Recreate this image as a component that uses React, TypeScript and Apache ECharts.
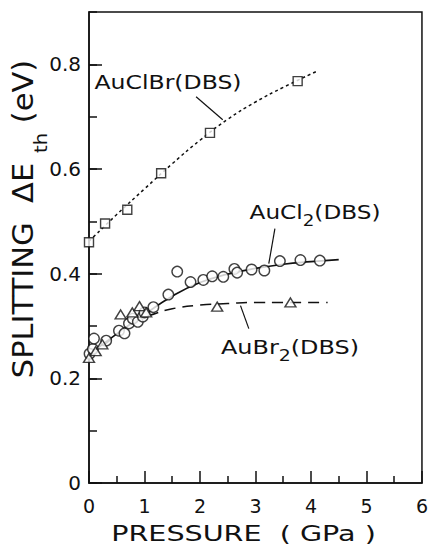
import React, { useEffect, useRef } from "react";
import * as echarts from "echarts";

// ---- data (pressure GPa, splitting eV) ----
const auClBrPoints: number[][] = [
  [0.0, 0.46], [0.29, 0.496], [0.69, 0.522], [1.3, 0.592], [2.18, 0.669], [3.76, 0.768],
];
const auClBrFit: number[][] = [
  [0, 0.462], [0.5, 0.513], [1.0, 0.562], [1.5, 0.61], [2.0, 0.655], [2.5, 0.695],
  [3.0, 0.728], [3.5, 0.756], [4.13, 0.788],
];
const auCl2Points: number[][] = [
  [0.01, 0.247], [0.07, 0.256], [0.09, 0.276], [0.31, 0.272], [0.54, 0.291], [0.64, 0.286],
  [0.72, 0.305], [0.79, 0.314], [0.88, 0.308], [0.97, 0.318], [1.0, 0.326], [1.16, 0.336],
  [1.43, 0.36], [1.59, 0.404], [1.83, 0.384], [2.06, 0.388], [2.22, 0.395], [2.42, 0.394],
  [2.62, 0.409], [2.67, 0.402], [2.93, 0.408], [3.16, 0.406], [3.44, 0.424], [3.81, 0.426],
  [4.16, 0.425],
];
const auCl2Fit: number[][] = [
  [0, 0.245], [0.5, 0.285], [1.0, 0.322], [1.5, 0.357], [2.0, 0.383], [2.5, 0.399],
  [3.0, 0.41], [3.5, 0.418], [4.0, 0.423], [4.5, 0.427],
];
const auBr2Points: number[][] = [
  [0.0, 0.239], [0.12, 0.252], [0.24, 0.265], [0.57, 0.322], [0.78, 0.326], [0.91, 0.338],
  [1.03, 0.326], [2.31, 0.337], [3.63, 0.345],
];
const auBr2Fit: number[][] = [
  [0, 0.24], [0.5, 0.283], [0.9, 0.312], [1.2, 0.324], [1.5, 0.333], [2.0, 0.34],
  [2.5, 0.343], [3.0, 0.345], [3.5, 0.345], [4.3, 0.345],
];
const leaderAuClBr: number[][] = [[1.93, 0.738], [2.41, 0.694]];
const leaderAuCl2: number[][] = [[3.35, 0.486], [3.24, 0.419]];
const leaderAuBr2: number[][] = [[2.73, 0.339], [2.88, 0.295]];

const INK = "#111";
const FONT = "DejaVu Sans";

export default function App() {
  const ref = useRef<HTMLDivElement>(null);
  useEffect(() => {
    if (!ref.current) return;
    const chart = echarts.init(ref.current, null, { renderer: "svg" });
    const hollow = { color: "#fff", borderColor: INK, borderWidth: 1.4 };
    const leader = (d: number[][]) => ({
      type: "line", data: d, symbol: "none", silent: true, z: 1,
      lineStyle: { color: INK, width: 1.2 },
    });
    const centered = {
      align: "center", verticalAlign: "middle", textAlign: "center", textVerticalAlign: "middle",
    };
    chart.setOption({
      animation: false,
      backgroundColor: "#fff",
      grid: {
        left: 89, right: 7, top: 12, bottom: 65, show: true,
        borderColor: INK, borderWidth: 1.5, backgroundColor: "transparent",
      },
      xAxis: {
        type: "value", min: 0, max: 6, interval: 1,
        axisLine: { show: true, lineStyle: { color: INK, width: 1.5 } },
        axisTick: { show: true, inside: true, length: 12, lineStyle: { color: INK, width: 1.5 } },
        minorTick: { show: true, splitNumber: 2, length: 7, lineStyle: { color: INK, width: 1.5 } },
        splitLine: { show: false },
        axisLabel: { color: INK, fontFamily: FONT, fontSize: 19, margin: 13 },
      },
      yAxis: [
        {
          type: "value", min: 0, max: 0.9, interval: 0.2,
          axisLine: { show: true, lineStyle: { color: INK, width: 1.5 } },
          axisTick: { show: true, inside: true, length: 13, lineStyle: { color: INK, width: 1.5 } },
          splitLine: { show: false },
          axisLabel: { color: INK, fontFamily: FONT, fontSize: 20, margin: 8, showMaxLabel: false },
        },
        {
          type: "value", min: 0, max: 0.9, interval: 0.1, position: "left",
          axisLine: { show: false },
          axisTick: { show: true, inside: true, length: 8, lineStyle: { color: INK, width: 1.5 } },
          splitLine: { show: false },
          axisLabel: { show: false },
        },
      ],
      series: [
        { type: "line", data: auClBrFit, smooth: true, symbol: "none", z: 2,
          lineStyle: { color: INK, width: 1.5, type: [3, 3] } },
        { type: "line", data: auCl2Fit, smooth: true, symbol: "none", z: 2,
          lineStyle: { color: INK, width: 1.7 } },
        { type: "line", data: auBr2Fit, smooth: true, symbol: "none", z: 2,
          lineStyle: { color: INK, width: 1.5, type: [11, 7] } },
        leader(leaderAuClBr), leader(leaderAuCl2), leader(leaderAuBr2),
        { type: "scatter", data: auClBrPoints, symbol: "rect", symbolSize: 9, z: 5, itemStyle: hollow },
        { type: "scatter", data: auCl2Points, symbol: "circle", symbolSize: 10.5, z: 5, itemStyle: hollow },
        { type: "scatter", data: auBr2Points, symbol: "triangle", symbolSize: [11, 9], z: 5, itemStyle: hollow },
      ],
      graphic: [
        {
          type: "text", x: 168, y: 82, scaleX: 1.24, z: 10,
          style: { text: "AuClBr(DBS)", font: `19px '${FONT}'`, fill: INK, ...centered },
        },
        {
          type: "text", x: 315, y: 212, scaleX: 1.22, z: 10,
          style: {
            text: "{n|AuCl}{s|2}{n|(DBS)}", fill: INK, ...centered,
            rich: {
              n: { fontFamily: FONT, fontSize: 19, fill: INK, color: INK },
              s: { fontFamily: FONT, fontSize: 15, fill: INK, color: INK, padding: [18, 0, 0, 0] },
            },
          },
        },
        {
          type: "text", x: 290, y: 347, scaleX: 1.26, z: 10,
          style: {
            text: "{n|AuBr}{s|2}{n|(DBS)}", fill: INK, ...centered,
            rich: {
              n: { fontFamily: FONT, fontSize: 19, fill: INK, color: INK },
              s: { fontFamily: FONT, fontSize: 15, fill: INK, color: INK, padding: [18, 0, 0, 0] },
            },
          },
        },
        {
          type: "text", x: 243.5, y: 533, scaleX: 1.3, z: 10,
          style: { text: "PRESSURE  ( GPa )", font: `22px '${FONT}'`, fill: INK, ...centered },
        },
        {
          type: "text", x: 23, y: 219, rotation: Math.PI / 2, scaleX: 1.09, z: 10,
          style: {
            text: "{n|SPLITTING  ΔE }{s|th}{n| (eV)}", fill: INK, ...centered,
            rich: {
              n: { fontFamily: FONT, fontSize: 28, fill: INK, color: INK },
              s: { fontFamily: FONT, fontSize: 18, fill: INK, color: INK, padding: [36, 0, 0, 0] },
            },
          },
        },
      ],
    });
    return () => chart.dispose();
  }, []);
  return (
    <div
      ref={ref}
      style={{ position: "fixed", left: 0, top: 0, width: 431, height: 548, background: "#fff" }}
    />
  );
}
